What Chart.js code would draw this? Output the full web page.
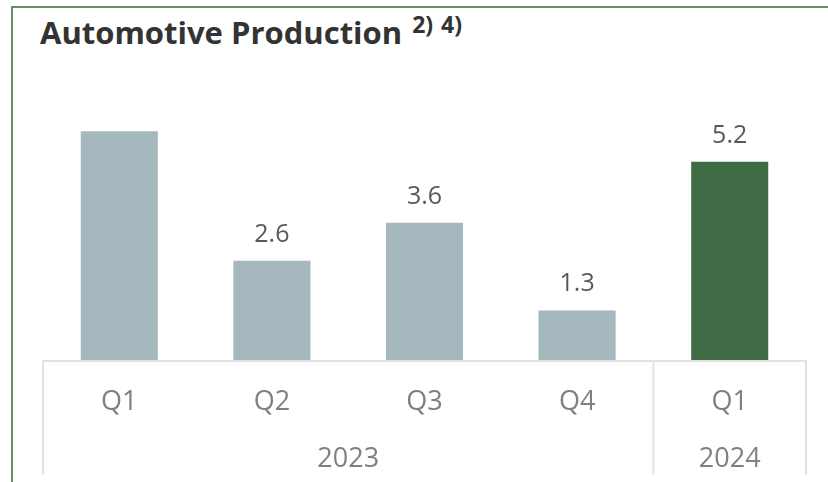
<!DOCTYPE html>
<html>
<head>
<meta charset="utf-8">
<script src="https://cdn.jsdelivr.net/npm/chart.js@4.4.1/dist/chart.umd.min.js"></script>
<style>
  html, body { margin: 0; padding: 0; background: #fff; }
  #wrap { position: relative; width: 828px; height: 482px; overflow: hidden; }
  #frame { position: absolute; left: 11px; top: 6px; right: -4px; bottom: -4px;
           border-left: 2px solid #6b8c6b; border-top: 2px solid #6b8c6b; }
  #title { position: absolute; left: 40px; top: 11px; margin: 0; line-height: 40px;
           font: bold 31px "Open Sans", sans-serif; color: #333; white-space: nowrap; }
  #title sup { font-size: 23px; position: relative; top: -11px; vertical-align: baseline;
               margin-left: 10px; word-spacing: 2px; }
  canvas { position: absolute; left: 0; top: 0; }
</style>
</head>
<body>
<div id="wrap">
  <div id="frame"></div>
  <h1 id="title">Automotive Production<sup>2) 4)</sup></h1>
  <canvas id="prodChart" width="828" height="482"></canvas>
</div>
<script>
// data
var quarters = ["Q1", "Q2", "Q3", "Q4", "Q1"];
var years = ["2023", "2024"];
var yearSpan = [4, 1];            // how many quarters sit under each year
var production = [6.0, 2.6, 3.6, 1.3, 5.2];
var showValue = [false, true, true, true, true];
var barColors = ["#a5b8bd", "#a5b8bd", "#a5b8bd", "#a5b8bd", "#3f6b44"];

// draws value labels, the boxed category axis and the year row
var axisBox = {
    id: 'axisBox',
    afterDatasetsDraw: function(chart) {
        var ctx = chart.ctx;
        var x = chart.scales.x;
        var area = chart.chartArea;
        var base = area.bottom;
        var meta = chart.getDatasetMeta(0);

        ctx.save();
        // values above bars
        ctx.font = '25px "Open Sans", sans-serif';
        ctx.fillStyle = '#595959';
        ctx.textAlign = 'center';
        ctx.textBaseline = 'alphabetic';
        meta.data.forEach(function(bar, i) {
            if (!showValue[i]) return;
            ctx.fillText(production[i].toFixed(1), bar.x, bar.y - 19);
        });

        // box lines
        var half = (x.getPixelForValue(1) - x.getPixelForValue(0)) / 2;
        ctx.strokeStyle = '#e3e3e3';
        ctx.lineWidth = 2;
        ctx.beginPath();
        ctx.moveTo(x.left, base + 1);
        ctx.lineTo(x.right, base + 1);
        var bottom = base + 115;
        var edges = [x.left];
        var idx = 0;
        yearSpan.forEach(function(n) {
            idx += n;
            edges.push(x.getPixelForValue(idx - 1) + half);
        });
        edges.forEach(function(ex) {
            ctx.moveTo(ex, base);
            ctx.lineTo(ex, bottom);
        });
        ctx.stroke();

        // axis labels
        ctx.fillStyle = '#808080';
        ctx.font = '27px "Open Sans", sans-serif';
        ctx.textBaseline = 'alphabetic';
        quarters.forEach(function(q, i) {
            ctx.fillText(q, x.getPixelForValue(i), base + 50);
        });
        var start = 0;
        years.forEach(function(yr, j) {
            var end = start + yearSpan[j] - 1;
            var cx = (x.getPixelForValue(start) + x.getPixelForValue(end)) / 2;
            ctx.fillText(yr, cx, base + 107);
            start = end + 1;
        });
        ctx.restore();
    }
};

var prodConfig = {
    type: 'bar',
    data: {
        labels: quarters,
        datasets: [{
            data: production,
            backgroundColor: barColors,
            borderWidth: 0,
            categoryPercentage: 1.0,
            barPercentage: 0.505
        }]
    },
    options: {
        responsive: false,
        animation: false,
        layout: { padding: { left: 43, right: 22, top: 93, bottom: 122 } },
        scales: {
            x: { display: false },
            y: { display: false, min: 0, max: 7 }
        },
        plugins: {
            legend: { display: false },
            tooltip: { enabled: false }
        }
    },
    plugins: [axisBox]
};

var prodCtx = document.getElementById("prodChart");
var prodChart = new Chart(prodCtx, prodConfig);
</script>
</body>
</html>
